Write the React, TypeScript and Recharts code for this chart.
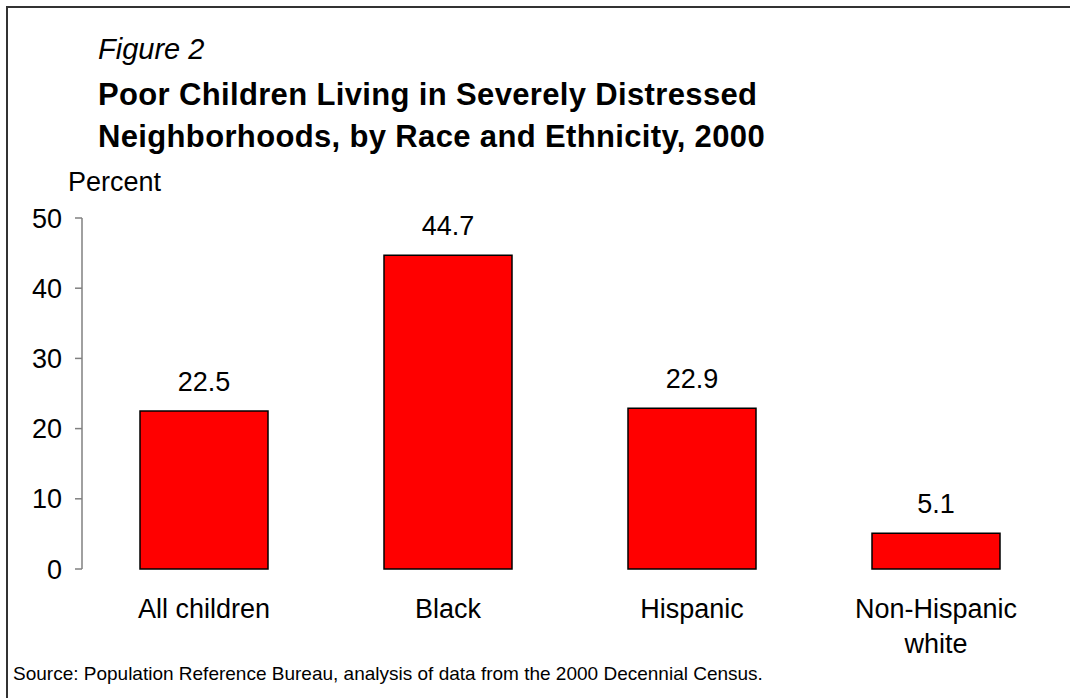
import React from 'react';
import { BarChart, Bar, XAxis, YAxis, LabelList } from 'recharts';

const categories = ['All children', 'Black', 'Hispanic', 'Non-Hispanic white'];
const percents = [22.5, 44.7, 22.9, 5.1];
const yTicks = [0, 10, 20, 30, 40, 50];
const edgeTicks = [0, 1, 2, 3, 4];

const data = categories.map((name, i) => ({ name, value: percents[i] }));

const FONT = '"Liberation Sans", Arial, sans-serif';

const CategoryTick = (props: any) => {
  const { x, y, payload } = props;
  const label: string = payload.value;
  const lines = label.length > 14 ? [label.slice(0, label.indexOf(' ')), label.slice(label.indexOf(' ') + 1)] : [label];
  return (
    <text x={x} y={y} textAnchor="middle" fill="#000" fontSize={27} fontFamily={FONT}>
      {lines.map((ln, i) => (
        <tspan key={i} x={x} dy={i === 0 ? 49 : 35}>
          {ln}
        </tspan>
      ))}
    </text>
  );
};

const textStyle: React.CSSProperties = {
  position: 'absolute',
  fontFamily: FONT,
  lineHeight: 1,
  whiteSpace: 'nowrap',
  color: '#000',
};

const App: React.FC = () => {
  return (
    <div style={{ position: 'absolute', left: 0, top: 0, width: 1070, height: 698, background: '#fff', overflow: 'hidden' }}>
      <div
        style={{
          position: 'absolute',
          left: 6,
          top: 6,
          width: 1080,
          height: 720,
          borderLeft: '2px solid #333',
          borderTop: '2px solid #333',
        }}
      />
      <div style={{ ...textStyle, left: 98, top: 35, fontSize: 29, fontStyle: 'italic' }}>Figure 2</div>
      <div style={{ ...textStyle, left: 98, top: 79, fontSize: 31, fontWeight: 'bold', letterSpacing: 0.35 }}>
        Poor Children Living in Severely Distressed
      </div>
      <div style={{ ...textStyle, left: 98, top: 121, fontSize: 31, fontWeight: 'bold', letterSpacing: 0.35 }}>
        Neighborhoods, by Race and Ethnicity, 2000
      </div>
      <div style={{ ...textStyle, left: 68, top: 169, fontSize: 27 }}>Percent</div>
      <div style={{ ...textStyle, left: 13, top: 664, fontSize: 19 }}>
        Source: Population Reference Bureau, analysis of data from the 2000 Decennial Census.
      </div>

      <div style={{ position: 'absolute', left: 0, top: 0 }}>
        <BarChart width={1070} height={698} data={data} margin={{ top: 218, right: 12, bottom: 29, left: 22 }}>
          <XAxis
            xAxisId="edge"
            type="number"
            domain={[0, 4]}
            ticks={edgeTicks}
            allowDataOverflow
            height={0}
            tickSize={7}
            tickFormatter={() => ''}
            axisLine={{ stroke: '#808080', strokeWidth: 1.5 }}
            tickLine={{ stroke: '#808080', strokeWidth: 1.5 }}
          />
          <XAxis
            xAxisId="cat"
            dataKey="name"
            height={100}
            interval={0}
            axisLine={false}
            tickLine={false}
            tickSize={0}
            tickMargin={0}
            tick={<CategoryTick />}
          />
          <YAxis
            width={60}
            domain={[0, 50]}
            ticks={yTicks}
            tickSize={7}
            tickMargin={13}
            axisLine={{ stroke: '#808080', strokeWidth: 1.5 }}
            tickLine={{ stroke: '#808080', strokeWidth: 1.5 }}
            tick={{ fill: '#000', fontSize: 27, fontFamily: FONT }}
          />
          <Bar xAxisId="cat" dataKey="value" fill="#ff0000" stroke="#000" strokeWidth={1.5} barSize={128} isAnimationActive={false}>
            <LabelList dataKey="value" position="top" offset={20} fill="#000" fontSize={27} fontFamily={FONT} formatter={(v: any) => Number(v).toFixed(1)} />
          </Bar>
        </BarChart>
      </div>
    </div>
  );
};

export default App;
